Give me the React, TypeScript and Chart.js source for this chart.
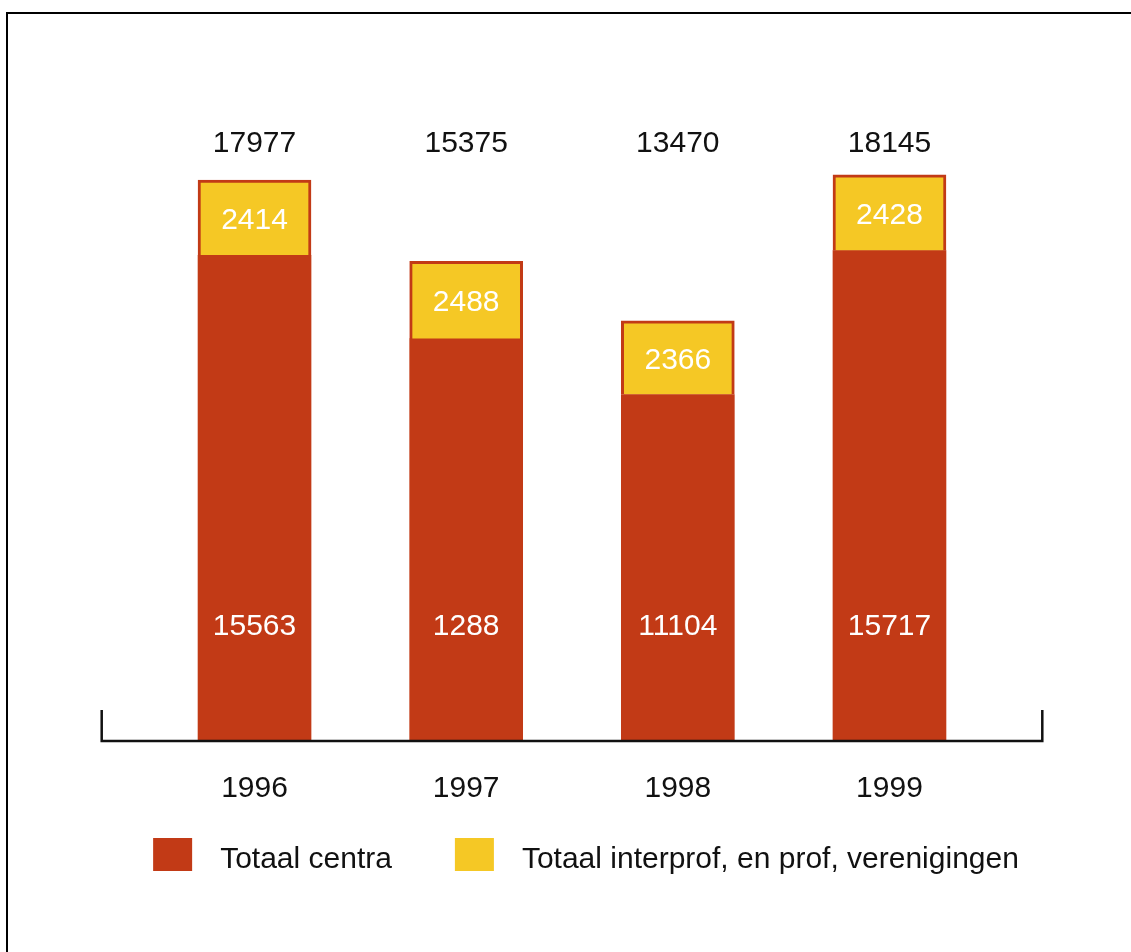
import React, { useEffect, useRef } from "react";
import { Chart, registerables } from "chart.js";

Chart.register(...registerables);

const years = ["1996", "1997", "1998", "1999"];
const centra = [15563, 12887, 11104, 15717];
const centraLabels = ["15563", "1288", "11104", "15717"];
const interprof = [2414, 2488, 2366, 2428];
const totals = [17977, 15375, 13470, 18145];
const seriesNames = ["Totaal centra", "Totaal interprof, en prof, verenigingen"];

const RED = "#C23A16";
const YELLOW = "#F5C825";
const FONT = '30px "Liberation Sans", Arial, sans-serif';

const framePlugin = {
  id: "frame",
  beforeDraw(chart: any) {
    const ctx = chart.ctx;
    ctx.save();
    ctx.strokeStyle = "#000";
    ctx.lineWidth = 2;
    ctx.beginPath();
    ctx.moveTo(7, chart.height + 10);
    ctx.lineTo(7, 13);
    ctx.lineTo(chart.width + 10, 13);
    ctx.stroke();
    ctx.restore();
  },
};

const labelPlugin = {
  id: "barLabels",
  afterDatasetsDraw(chart: any) {
    const ctx = chart.ctx;
    const { top, bottom } = chart.chartArea;
    const m0 = chart.getDatasetMeta(0);
    const m1 = chart.getDatasetMeta(1);
    ctx.save();
    ctx.font = FONT;
    ctx.textAlign = "center";
    ctx.textBaseline = "middle";
    m0.data.forEach((bar: any, i: number) => {
      const yb = m1.data[i];
      ctx.fillStyle = "#fff";
      ctx.fillText(centraLabels[i], bar.x, bottom - 114);
      ctx.fillText(String(interprof[i]), yb.x, (yb.y + yb.base) / 2 + 3);
      ctx.fillStyle = "#111";
      ctx.fillText(String(totals[i]), yb.x, top + 27);
    });
    ctx.restore();
  },
};

const axisPlugin = {
  id: "bracketAxis",
  afterDraw(chart: any) {
    const ctx = chart.ctx;
    const { left, right, bottom } = chart.chartArea;
    const l = left - 47;
    const r = right + 47;
    ctx.save();
    ctx.strokeStyle = "#111";
    ctx.lineWidth = 2.5;
    ctx.lineJoin = "miter";
    ctx.beginPath();
    ctx.moveTo(l, bottom - 31);
    ctx.lineTo(l, bottom);
    ctx.lineTo(r, bottom);
    ctx.lineTo(r, bottom - 31);
    ctx.stroke();
    ctx.restore();
  },
};

const legendPlugin = {
  id: "customLegend",
  afterDraw(chart: any) {
    const ctx = chart.ctx;
    const colors = [RED, YELLOW];
    ctx.save();
    ctx.font = FONT;
    ctx.textBaseline = "middle";
    ctx.textAlign = "left";
    const boxW = 39;
    const boxH = 33;
    const gap = 28;
    const itemGap = 63;
    const widths = seriesNames.map((n) => ctx.measureText(n).width);
    const total = widths.reduce((a, w) => a + boxW + gap + w, 0) + itemGap;
    const cx = (chart.chartArea.left + chart.chartArea.right) / 2 + 14;
    let x = cx - total / 2;
    const y = 838;
    seriesNames.forEach((n, i) => {
      ctx.fillStyle = colors[i];
      ctx.fillRect(x, y, boxW, boxH);
      ctx.fillStyle = "#111";
      ctx.fillText(n, x + boxW + gap, y + boxH / 2 + 5);
      x += boxW + gap + widths[i] + itemGap;
    });
    ctx.restore();
  },
};

export default function App() {
  const ref = useRef<HTMLCanvasElement>(null);
  useEffect(() => {
    document.body.style.margin = "0";
    document.body.style.overflow = "hidden";
    const chart = new Chart(ref.current as HTMLCanvasElement, {
      type: "bar",
      data: {
        labels: years,
        datasets: [
          {
            label: seriesNames[0],
            data: centra,
            backgroundColor: RED,
            borderWidth: 0,
            barThickness: 113,
          },
          {
            label: seriesNames[1],
            data: interprof,
            backgroundColor: YELLOW,
            borderColor: RED,
            borderWidth: 3,
            borderSkipped: "bottom",
            barThickness: 113,
          },
        ],
      },
      options: {
        responsive: false,
        animation: false,
        layout: { padding: { left: 148.7, right: 135.7, top: 117, bottom: 0 } },
        plugins: {
          legend: { display: false },
          tooltip: { enabled: false },
        },
        scales: {
          x: {
            stacked: true,
            grid: { display: false },
            border: { display: false },
            ticks: {
              color: "#111",
              font: { family: '"Liberation Sans", Arial, sans-serif', size: 30 },
              padding: 22,
            },
            afterFit: (scale: any) => {
              scale.height = 211;
            },
          },
          y: {
            stacked: true,
            display: false,
            min: 0,
            max: 20000,
          },
        },
      },
      plugins: [framePlugin, labelPlugin, axisPlugin, legendPlugin],
    });
    return () => chart.destroy();
  }, []);
  return (
    <div style={{ width: 1131, height: 952 }}>
      <canvas ref={ref} width={1131} height={952} />
    </div>
  );
}
